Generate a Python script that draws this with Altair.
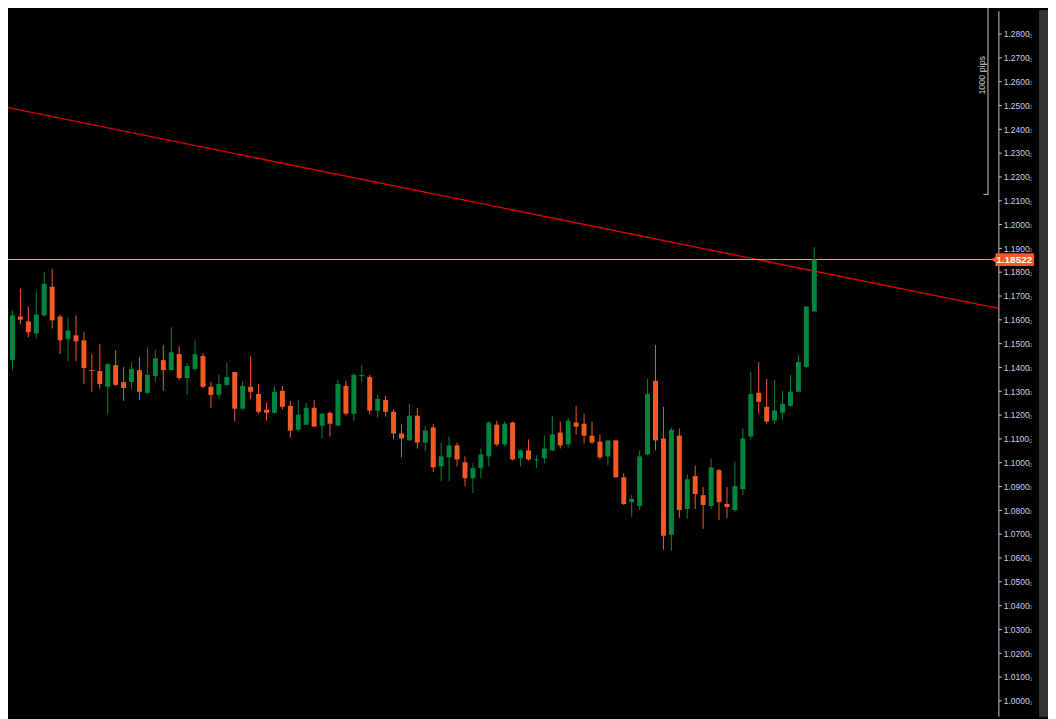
import altair as alt
import pandas as pd

# ---- data ----
opens = [1.1368,1.1430,1.1613,1.1593,1.1542,1.1618,1.1738,1.1613,1.1518,1.1534,
         1.1513,1.1388,1.1384,1.1318,1.1409,1.1338,1.1338,1.1388,1.1293,1.1363,
         1.1430,1.1388,1.1455,1.1355,1.1393,1.1447,1.1318,1.1284,1.1326,1.1380,
         1.1226,1.1318,1.1288,1.1222,1.1209,1.1301,1.1238,1.1138,1.1159,1.1230,
         1.1155,1.1209,1.1155,1.1322,1.1205,1.1363,1.1359,1.1218,1.1263,1.1213,
         1.1122,1.1093,1.1197,1.1084,1.1147,1.0984,1.1022,1.1072,1.1001,1.0934,
         1.0976,1.1026,1.1159,1.1076,1.1168,1.1018,1.1051,1.1009,1.1018,1.1051,
         1.1126,1.1076,1.1168,1.1163,1.1113,1.1088,1.1026,1.1093,1.0938,1.0834,
         1.0818,1.1034,1.1343,1.1101,1.0697,1.1113,1.0805,1.0943,1.0863,1.0818,
         1.0968,1.0826,1.0801,1.0888,1.1109,1.1293,1.1234,1.1176,1.1209,1.1238,
         1.1297,1.1401,1.1634]
highs = [1.1443,1.1638,1.1730,1.1655,1.1718,1.1801,1.1813,1.1622,1.1609,1.1618,
         1.1547,1.1455,1.1497,1.1418,1.1472,1.1401,1.1422,1.1443,1.1484,1.1472,
         1.1493,1.1568,1.1488,1.1418,1.1513,1.1459,1.1338,1.1368,1.1418,1.1380,
         1.1343,1.1447,1.1330,1.1251,1.1322,1.1322,1.1259,1.1263,1.1251,1.1263,
         1.1209,1.1213,1.1347,1.1343,1.1376,1.1409,1.1368,1.1284,1.1280,1.1222,
         1.1159,1.1247,1.1230,1.1151,1.1163,1.1084,1.1109,1.1084,1.1026,1.0997,
         1.1059,1.1172,1.1176,1.1172,1.1172,1.1055,1.1097,1.1030,1.1113,1.1197,
         1.1172,1.1188,1.1238,1.1205,1.1172,1.1118,1.1093,1.1093,1.0955,1.0863,
         1.1051,1.1351,1.1493,1.1234,1.1147,1.1143,1.0951,1.0988,1.0897,1.1018,
         1.0972,1.0897,1.1005,1.1143,1.1380,1.1422,1.1351,1.1347,1.1301,1.1368,
         1.1451,1.1655,1.1905]
lows = [1.1297,1.1388,1.1580,1.1526,1.1522,1.1613,1.1563,1.1455,1.1426,1.1426,
        1.1330,1.1297,1.1309,1.1205,1.1322,1.1259,1.1305,1.1263,1.1288,1.1338,
        1.1301,1.1388,1.1347,1.1284,1.1384,1.1313,1.1230,1.1267,1.1322,1.1172,
        1.1218,1.1267,1.1205,1.1176,1.1205,1.1222,1.1105,1.1130,1.1159,1.1151,
        1.1101,1.1109,1.1155,1.1197,1.1176,1.1338,1.1201,1.1188,1.1193,1.1097,
        1.1022,1.1093,1.1059,1.1047,1.0959,1.0922,1.0922,1.0984,1.0901,1.0872,
        1.0934,1.0984,1.1068,1.1068,1.1009,1.0984,1.1009,1.0976,1.0997,1.1047,
        1.1059,1.1063,1.1118,1.1080,1.1080,1.1013,1.0988,1.0938,1.0822,1.0772,
        1.0801,1.1030,1.1051,1.0634,1.0630,1.0768,1.0764,1.0805,1.0722,1.0805,
        1.0759,1.0768,1.0793,1.0863,1.1097,1.1205,1.1163,1.1163,1.1180,1.1234,
        1.1297,1.1397,1.1634]
closes = [1.1438,1.1618,1.1600,1.1547,1.1622,1.1751,1.1597,1.1513,1.1555,1.1509,
          1.1397,1.1384,1.1330,1.1413,1.1326,1.1313,1.1393,1.1297,1.1368,1.1438,
          1.1388,1.1463,1.1355,1.1405,1.1455,1.1318,1.1284,1.1330,1.1359,1.1226,
          1.1322,1.1297,1.1213,1.1209,1.1297,1.1234,1.1134,1.1201,1.1230,1.1151,
          1.1205,1.1163,1.1330,1.1205,1.1368,1.1368,1.1218,1.1267,1.1213,1.1122,
          1.1101,1.1197,1.1084,1.1134,1.0980,1.1026,1.1072,1.1013,1.0934,1.0976,
          1.1034,1.1168,1.1076,1.1163,1.1013,1.1051,1.1013,1.1013,1.1059,1.1118,
          1.1072,1.1176,1.1151,1.1113,1.1084,1.1022,1.1093,1.0938,1.0826,1.0847,
          1.1026,1.1288,1.1093,1.0693,1.1138,1.0801,1.0930,1.0868,1.0822,1.0980,
          1.0834,1.0813,1.0901,1.1101,1.1288,1.1255,1.1172,1.1218,1.1247,1.1297,
          1.1422,1.1655,1.18522]

last_price = 1.18522
last_label = "1.18522"
tick_values = [round(1.00 + 0.01 * k, 2) for k in range(30)]
trend_index = [-0.5625, 125.19]
trend_price = [1.2497, 1.1647]
bracket_low = 1.2126
bracket_pips = 1000
bracket_label = "1000 pips"

GREEN = "#00853e"
ORANGE = "#f15a24"

Y_DOMAIN = [0.99346, 1.28971]

n = len(opens)
df = pd.DataFrame({"i": list(range(n)), "open": opens, "high": highs,
                   "low": lows, "close": closes})
df["up"] = df["close"] >= df["open"]

xs = alt.Scale(domain=[0.4375, 125.1875], nice=False, zero=False)
ys = alt.Scale(domain=Y_DOMAIN, nice=False, zero=False)

y_axis = alt.Axis(
    orient="right", values=tick_values,
    labelExpr="format(datum.value, '.4f')",
    tickSize=3, tickColor="#c8c8c8", domainColor="#c8c8c8",
    labelColor="#c8d0e0", labelFont="Liberation Sans", labelFontSize=8.5,
    labelPadding=2, grid=False, title=None, labelOverlap=False,
    labelFlush=False)


def Y(field):
    return alt.Y(field, scale=ys, axis=y_axis)


color_enc = alt.Color("up:N", scale=alt.Scale(domain=[True, False], range=[GREEN, ORANGE]), legend=None)

base = alt.Chart(df)

wicks = base.mark_rule(strokeWidth=1, clip=True).encode(
    x=alt.X("i:Q", scale=xs, axis=None),
    y=Y("low:Q"),
    y2="high:Q",
    color=color_enc,
)

bodies = base.transform_calculate(
    xl="datum.i - 0.3125", xr="datum.i + 0.3125",
).mark_rect(clip=True).encode(
    x=alt.X("xl:Q", scale=xs, axis=None),
    x2="xr:Q",
    y=Y("open:Q"),
    y2="close:Q",
    color=color_enc,
)

trend_df = pd.DataFrame({"i": trend_index, "p": trend_price})
trend = alt.Chart(trend_df).mark_line(color="#e00000", strokeWidth=1.3, clip=True).encode(
    x=alt.X("i:Q", scale=xs, axis=None),
    y=Y("p:Q"),
)

last_df = pd.DataFrame({"p": [last_price], "label": [last_label]})
price_line = alt.Chart(last_df).mark_rule(color="#f2a084", strokeWidth=1).encode(
    x=alt.value(0), x2=alt.value(993),
    y=Y("p:Q"),
)
tag_box = alt.Chart(last_df).mark_rule(color=ORANGE, strokeWidth=13).encode(
    x=alt.value(995), x2=alt.value(1034),
    y=Y("p:Q"),
)
tag_tip = alt.Chart(last_df).mark_point(shape="triangle-left", filled=True, size=70,
                                        color=ORANGE, opacity=1).encode(
    x=alt.value(994),
    y=Y("p:Q"),
)
tag_text = alt.Chart(last_df).mark_text(color="white", fontWeight="bold", fontSize=10,
                                        font="Liberation Sans", align="center",
                                        baseline="middle").encode(
    x=alt.value(1014),
    y=Y("p:Q"),
    text="label:N",
)

visible_ticks = [v for v in tick_values if Y_DOMAIN[0] <= v <= Y_DOMAIN[1]]
ticks_df = pd.DataFrame({"v": visible_ticks, "s": ["0"] * len(visible_ticks)})
axis_layer = alt.Chart(ticks_df).mark_point(opacity=0).encode(
    x=alt.value(0),
    y=Y("v:Q"),
)
sub_digits = alt.Chart(ticks_df).mark_text(color="#c08858", fontSize=6, align="left",
                                           baseline="middle", dy=2,
                                           font="Liberation Sans").encode(
    x=alt.value(1028.5),
    y=Y("v:Q"),
    text="s:N",
)

# dark strip at the far right edge of the price panel
strip = alt.Chart(ticks_df).mark_rect(color="#333333").encode(
    x=alt.value(1039), x2=alt.value(1048), y=alt.value(0), y2=alt.value(711))

br_df = pd.DataFrame({"lo": [bracket_low],
                      "hi": [bracket_low + bracket_pips * 0.0001],
                      "mid": [bracket_low + bracket_pips * 0.0001 / 2],
                      "label": [bracket_label]})
br_line = alt.Chart(br_df).mark_rule(color="#c8c8c8", strokeWidth=1).encode(
    x=alt.value(987.5), y=Y("lo:Q"), y2="hi:Q")
br_tick = alt.Chart(br_df).mark_rule(color="#c8c8c8", strokeWidth=1).encode(
    x=alt.value(983), x2=alt.value(988), y=Y("lo:Q"))
br_text = alt.Chart(br_df).mark_text(color="#c8c8c8", fontSize=9, angle=270,
                                     align="center", baseline="middle",
                                     font="Liberation Sans").encode(
    x=alt.value(982), y=Y("mid:Q"), text="label:N")

chart = alt.layer(
    axis_layer, strip, trend, price_line, wicks, bodies, tag_box, tag_tip, tag_text,
    sub_digits, br_line, br_tick, br_text,
).properties(
    width=998, height=711,
    autosize=alt.AutoSizeParams(type="none"),
    padding={"left": 0, "top": 0, "right": 50, "bottom": 0},
    background="#000000",
).configure_view(strokeWidth=0, fill="#000000")

chart.save("out.html", embed_options={"renderer": "svg", "actions": False})
